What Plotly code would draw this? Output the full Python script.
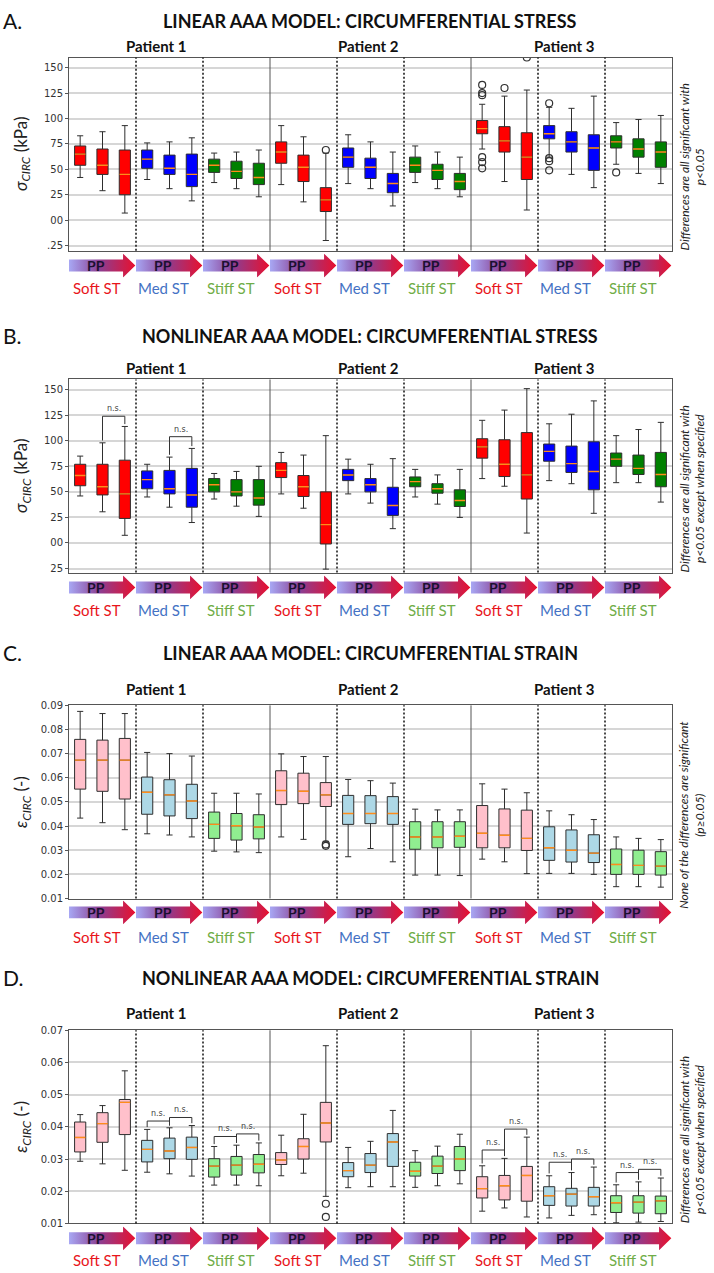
import plotly.graph_objects as go

W, H = 714, 1273

positions = list(range(1, 28))
stiffness = ['Soft ST', 'Med ST', 'Stiff ST']
patients = ['Patient 1', 'Patient 2', 'Patient 3']

# --- A. linear model, circumferential stress (kPa) ---
a_lo = [42, 29, 7, 40, 31, 19, 37, 31, 23,
        35, 18, -20, 36, 31, 14, 37, 31, 23,
        70, 38, 10, 62, 45, 32, 55, 46, 36]
a_q1 = [54, 45, 25, 51, 45, 33, 47, 41, 35,
        56, 38, 8.5, 52, 41, 27, 47, 40, 30,
        85, 67, 40, 80, 67, 49, 71, 62, 52]
a_med = [65, 54, 45, 60, 51, 45, 54, 48, 42,
         67, 52, 20, 62, 52, 36, 54, 49, 38,
         90, 78, 62, 85, 77, 71, 77, 70, 67]
a_q3 = [73, 70, 69, 69, 64, 65, 60, 58, 56,
        77, 64, 32, 71, 61, 46, 62, 55, 46,
        98, 92, 86, 93, 87, 84, 83, 80, 77]
a_hi = [83, 87, 93, 76, 77, 81, 66, 67, 69,
        93, 82, 66, 84, 77, 67, 73, 67, 62,
        114, 122, 128, 111, 110, 122, 96, 99, 103]
a_out_pos = [12, 19, 19, 19, 19, 19, 19, 20, 21, 22, 22, 22, 22, 25]
a_out_val = [69, 133, 125, 123, 62, 57, 51, 130, 160, 115, 61, 58, 49, 47]

# --- B. nonlinear model, circumferential stress (kPa) ---
b_lo = [46, 30.5, 7.5, 45, 35, 20, 43, 36, 26,
        48, 34, -25.6, 48, 39, 14, 45, 38, 25,
        63, 55.5, 9.7, 61, 58, 29, 59, 59, 40]
b_q1 = [56, 47, 24, 53, 48, 35, 50, 46, 37,
        64, 45.5, -1, 61, 50, 27, 55, 48.7, 35.7,
        83, 65, 43, 80, 69, 52, 75, 67, 55]
b_med = [66, 55, 48, 62, 53, 47, 57, 50, 44,
         71, 55, 18, 66.5, 57, 36.7, 60, 53, 41.6,
         94, 77, 66.6, 89.6, 77.6, 70, 82, 73, 67]
b_q3 = [77, 77, 81, 70.5, 71, 73, 63, 62, 62,
        78.6, 66, 50, 72, 63, 54.5, 64.6, 58, 52,
        102, 101, 108, 96.8, 94.8, 99, 88, 86, 88.6]
b_hi = [85, 98, 114, 77, 84, 92.5, 68, 70, 75,
        88.6, 86, 105, 82, 77, 82.5, 72, 66.6, 72,
        120, 130, 151, 116.6, 126, 139, 105, 111, 118]
b_out_pos = []
b_out_val = []
b_ns = [(2, 3, 124), (5, 6, 104)]

# --- C. linear model, circumferential strain (-) ---
c_lo = [.0433, .0414, .0385, .0368, .0363, .0355, .0296, .0293, .0290,
        .0355, .0345, .0337, .0273, .0307, .0252, .0197, .0197, .0195,
        .0263, .0252, .0203, .0204, .0204, .0200, .0149, .0149, .0147]
c_q1 = [.0553, .0544, .0512, .0449, .0442, .0431, .0349, .0342, .0347,
        .0489, .0493, .0481, .0407, .0410, .0407, .0304, .0310, .0312,
        .0310, .0310, .0299, .0258, .0251, .0249, .0200, .0200, .0197]
c_med = [.0673, .0673, .0673, .0540, .0529, .0504, .0407, .0401, .0396,
         .0547, .0544, .0529, .0452, .0452, .0452, .0355, .0355, .0358,
         .0370, .0362, .0349, .0310, .0300, .0288, .0241, .0237, .0234]
c_q3 = [.0759, .0756, .0763, .0603, .0592, .0573, .0458, .0452, .0447,
        .0629, .0619, .0580, .0527, .0526, .0522, .0418, .0418, .0418,
        .0485, .0471, .0466, .0397, .0384, .0364, .0305, .0300, .0294]
c_hi = [.0875, .0866, .0866, .0705, .0700, .0690, .0536, .0536, .0533,
        .0699, .0688, .0688, .0593, .0588, .0578, .0470, .0467, .0467,
        .0575, .0553, .0538, .0463, .0447, .0427, .0355, .0349, .0344]
c_out_pos = [12, 12]
c_out_val = [.0318, .0324]

# --- D. nonlinear model, circumferential strain (-) ---
d_lo = [.0293, .0285, .0265, .0259, .0254, .0247, .0219, .0219, .0217,
        .0248, .0256, .0184, .0211, .0214, .0214, .0212, .0217, .0223,
        .0138, .0148, .0120, .0117, .0125, .0127, .0102, .0104, .0106]
d_q1 = [.0322, .0352, .0376, .0291, .0301, .0299, .0244, .0250, .0257,
        .0283, .0300, .0353, .0245, .0258, .0277, .0247, .0255, .0264,
        .0179, .0173, .0169, .0156, .0154, .0154, .0134, .0132, .0130]
d_med = [.0367, .0410, .0476, .0330, .0325, .0336, .0278, .0281, .0284,
         .0297, .0339, .0412, .0264, .0281, .0353, .0262, .0278, .0300,
         .0208, .0217, .0249, .0186, .0191, .0183, .0164, .0166, .0170]
d_q3 = [.0415, .0444, .0485, .0358, .0365, .0368, .0301, .0308, .0314,
        .0320, .0363, .0476, .0289, .0317, .0379, .0290, .0309, .0339,
        .0245, .0249, .0277, .0214, .0209, .0212, .0186, .0186, .0185]
d_hi = [.0438, .0466, .0574, .0392, .0397, .0404, .0339, .0343, .0350,
        .0374, .0439, .0652, .0336, .0355, .0451, .0326, .0340, .0377,
        .0279, .0302, .0368, .0248, .0258, .0275, .0220, .0229, .0241]
d_out_pos = [12, 12]
d_out_val = [.0161, .0120]
d_ns = [(4, 5, .0418), (5, 6, .0429), (7, 8, .0370), (8, 9, .0378),
        (19, 20, .0328), (20, 21, .0393), (22, 23, .0290), (23, 24, .0300),
        (25, 26, .0258), (26, 27, .0268)]

# y tick labels
stress_ticks = [150, 125, 100, 75, 50, 25, 0, -25]
a_ticktext = ['150', '125', '100', '75', '50', '25', '00', '.25']
b_ticktext = ['150', '125', '100', '75', '50', '25', '00', '25']
c_ticks = [0.01, 0.02, 0.03, 0.04, 0.05, 0.06, 0.07, 0.08, 0.09]
d_ticks = [0.01, 0.02, 0.03, 0.04, 0.05, 0.06, 0.07]

FONT = 'Lato'
strong = ['#ff0000', '#0000ff', '#008000']
light = ['#ffc0cb', '#add8e6', '#90ee90']
label_colors = ['#e8151b', '#4472c4', '#70ad47']


def px_x(v):
    return v / W


def px_y(v):
    return 1 - v / H


PLOT_L, PLOT_R = 69, 672

panels = [
    dict(letter='A.', title='LINEAR AAA MODEL: CIRCUMFERENTIAL STRESS',
         data=(a_lo, a_q1, a_med, a_q3, a_hi), out=(a_out_pos, a_out_val), ns=[],
         colors=strong, yrange=[-30, 160], tickvals=stress_ticks, ticktext=a_ticktext,
         ytitle='<i>σ<sub>CIRC</sub></i> (kPa)',
         note='<i>Differences are all significant with<br>p<0.05</i>',
         title_y=15, pat_y=40, top=52, bot=247, arr=(250, 274), lab_y=285),
    dict(letter='B.', title='NONLINEAR AAA MODEL: CIRCUMFERENTIAL STRESS',
         data=(b_lo, b_q1, b_med, b_q3, b_hi), out=(b_out_pos, b_out_val), ns=b_ns,
         colors=strong, yrange=[-29, 160], tickvals=stress_ticks, ticktext=b_ticktext,
         ytitle='<i>σ<sub>CIRC</sub></i> (kPa)',
         note='<i>Differences are all significant with<br>p<0.05 except when specified</i>',
         title_y=333, pat_y=365, top=377, bot=572, arr=(575, 599), lab_y=610),
    dict(letter='C.', title='LINEAR AAA MODEL: CIRCUMFERENTIAL STRAIN',
         data=(c_lo, c_q1, c_med, c_q3, c_hi), out=(c_out_pos, c_out_val), ns=[],
         colors=light, yrange=[0.01, 0.09], tickvals=c_ticks,
         ticktext=['%.2f' % t for t in c_ticks],
         ytitle='<i>ε<sub>CIRC</sub></i> (-)',
         note='<i>None of the differences are significant<br>(p≥0.05)</i>',
         title_y=653, pat_y=689, top=706, bot=901, arr=(903, 927), lab_y=940),
    dict(letter='D.', title='NONLINEAR AAA MODEL: CIRCUMFERENTIAL STRAIN',
         data=(d_lo, d_q1, d_med, d_q3, d_hi), out=(d_out_pos, d_out_val), ns=d_ns,
         colors=light, yrange=[0.01, 0.07], tickvals=d_ticks,
         ticktext=['%.2f' % t for t in d_ticks],
         ytitle='<i>ε<sub>CIRC</sub></i> (-)',
         note='<i>Differences are all significant with<br>p<0.05 except when specified</i>',
         title_y=981, pat_y=1017, top=1034, bot=1229, arr=(1232, 1256), lab_y=1266),
]

fig = go.Figure()
shapes = []
annotations = []
layout = dict(width=W, height=H, margin=dict(l=0, r=0, t=0, b=0),
              paper_bgcolor='white', plot_bgcolor='white', showlegend=False,
              font=dict(family=FONT, color='#222'))

arrow_scale = [[0, '#a8a8f4'], [0.45, '#8a3f94'], [1, '#e8102e']]


def note(**kw):
    base = dict(showarrow=False, xanchor='center', yanchor='middle')
    base.update(kw)
    annotations.append(base)


for k, p in enumerate(panels):
    n = k + 1
    xa = 'x' if n == 1 else 'x%d' % n
    ya = 'y' if n == 1 else 'y%d' % n
    yarr = 'y%d' % (n + 4)
    lo, q1, med, q3, hi = p['data']
    span = p['yrange'][1] - p['yrange'][0]

    # boxes, one trace per stiffness class
    for s in range(3):
        idx = [i for i in range(27) if (i // 3) % 3 == s]
        fig.add_trace(go.Box(
            x=[positions[i] for i in idx],
            q1=[q1[i] for i in idx], median=[med[i] for i in idx],
            q3=[q3[i] for i in idx], lowerfence=[lo[i] for i in idx],
            upperfence=[hi[i] for i in idx],
            width=0.5, whiskerwidth=0.55, fillcolor=p['colors'][s],
            line=dict(color='#2e2e2e', width=1), boxpoints=False,
            hoverinfo='skip', xaxis=xa, yaxis=ya))

    # orange median lines
    mx, my = [], []
    for i in range(27):
        mx += [positions[i] - 0.24, positions[i] + 0.24, None]
        my += [med[i], med[i], None]
    fig.add_trace(go.Scatter(x=mx, y=my, mode='lines',
                             line=dict(color='#ff8c1a', width=1.4),
                             hoverinfo='skip', xaxis=xa, yaxis=ya))

    # outliers
    if p['out'][0]:
        fig.add_trace(go.Scatter(x=p['out'][0], y=p['out'][1], mode='markers',
                                 marker=dict(symbol='circle-open', size=7,
                                             color='#333', line=dict(width=1.2)),
                                 hoverinfo='skip', xaxis=xa, yaxis=ya))

    # n.s. brackets
    gap = 0.012 * span
    for (i, j, level) in p['ns']:
        fig.add_trace(go.Scatter(
            x=[i, i, j, j], y=[hi[i - 1] + gap, level, level, hi[j - 1] + gap],
            mode='lines', line=dict(color='#333', width=1),
            hoverinfo='skip', xaxis=xa, yaxis=ya))
        note(x=(i + j) / 2, y=level, xref=xa, yref=ya, text='n.s.',
             yanchor='bottom', yshift=1,
             font=dict(size=8, color='#444', family='DejaVu Sans'))

    # PP arrows under each group
    for g in range(9):
        a0 = 3 * g + 0.5
        hb = 3 * g + 2.92
        tip = 3 * g + 3.47
        fig.add_trace(go.Scatter(
            x=[a0, hb, hb, tip, hb, hb, a0, a0],
            y=[0.25, 0.25, 0.0, 0.5, 1.0, 0.75, 0.75, 0.25],
            mode='lines', fill='toself', line=dict(width=0, color='rgba(0,0,0,0)'),
            fillgradient=dict(type='horizontal', colorscale=arrow_scale),
            hoverinfo='skip', xaxis=xa, yaxis=yarr))
        note(x=3 * g + 1.71, y=0.5, xref=xa, yref=yarr, text='<b>PP</b>',
             font=dict(size=14, color='#1b1030', family=FONT))
        note(x=3 * g + 1.75, y=px_y(p['lab_y']), xref=xa, yref='paper',
             text=stiffness[g % 3],
             font=dict(size=15, color=label_colors[g % 3], family=FONT))

    # separators between stiffness groups and patients
    for xv in [3.5, 6.5, 12.5, 15.5, 21.5, 24.5]:
        shapes.append(dict(type='line', xref=xa, yref=ya + ' domain',
                           x0=xv, x1=xv, y0=0, y1=1,
                           line=dict(color='#111', width=1.5, dash='2px,2px')))
    for xv in [9.5, 18.5]:
        shapes.append(dict(type='line', xref=xa, yref=ya + ' domain',
                           x0=xv, x1=xv, y0=0, y1=1,
                           line=dict(color='#555', width=1)))

    # axes
    xkey = 'xaxis' if n == 1 else 'xaxis%d' % n
    ykey = 'yaxis' if n == 1 else 'yaxis%d' % n
    layout[xkey] = dict(domain=[px_x(PLOT_L), px_x(PLOT_R)], range=[0.5, 27.5],
                        anchor=ya, showticklabels=False, showgrid=False,
                        zeroline=False, showline=True, mirror=True,
                        linecolor='#555', linewidth=1, fixedrange=True)
    layout[ykey] = dict(domain=[px_y(p['bot']), px_y(p['top'])], range=p['yrange'],
                        anchor=xa, tickvals=p['tickvals'], ticktext=p['ticktext'],
                        showgrid=True, gridcolor='#d6d6d6', gridwidth=1.5,
                        zeroline=False, showline=True, mirror=True,
                        linecolor='#555', linewidth=1, ticks='outside', ticklen=3,
                        tickcolor='#555',
                        tickfont=dict(family='DejaVu Sans', size=10, color='#333'),
                        fixedrange=True)
    layout['yaxis%d' % (n + 4)] = dict(domain=[px_y(p['arr'][1]), px_y(p['arr'][0])],
                                       range=[0, 1], anchor=xa, visible=False,
                                       fixedrange=True)

    # texts
    note(x=px_x(1), y=px_y(p['title_y']), xref='paper', yref='paper',
         xanchor='left', text=p['letter'], font=dict(size=21, color='#111'))
    note(x=px_x(370), y=px_y(p['title_y']), xref='paper', yref='paper',
         text='<b>%s</b>' % p['title'], font=dict(size=18, color='#111'))
    for pi, xp in enumerate([4.4, 13.9, 22.7]):
        note(x=xp, y=px_y(p['pat_y']), xref=xa, yref='paper',
             text='<b>%s</b>' % patients[pi], font=dict(size=15, color='#111'))
    note(x=px_x(22), y=px_y((p['top'] + p['bot']) / 2), xref='paper',
         yref='paper', text=p['ytitle'], textangle=-90,
         font=dict(size=17, color='#222'))
    note(x=px_x(692), y=px_y((p['top'] + p['arr'][1]) / 2), xref='paper',
         yref='paper', text=p['note'], textangle=-90,
         font=dict(size=12, color='#222'))

layout['shapes'] = shapes
layout['annotations'] = annotations
fig.update_layout(**layout)

# drop the browser's default 8px body margin so the figure fills the window
fig.write_html("out.html", config={'displayModeBar': False},
               post_script="document.body.style.margin='0';"
                           "document.body.style.overflow='hidden';")
